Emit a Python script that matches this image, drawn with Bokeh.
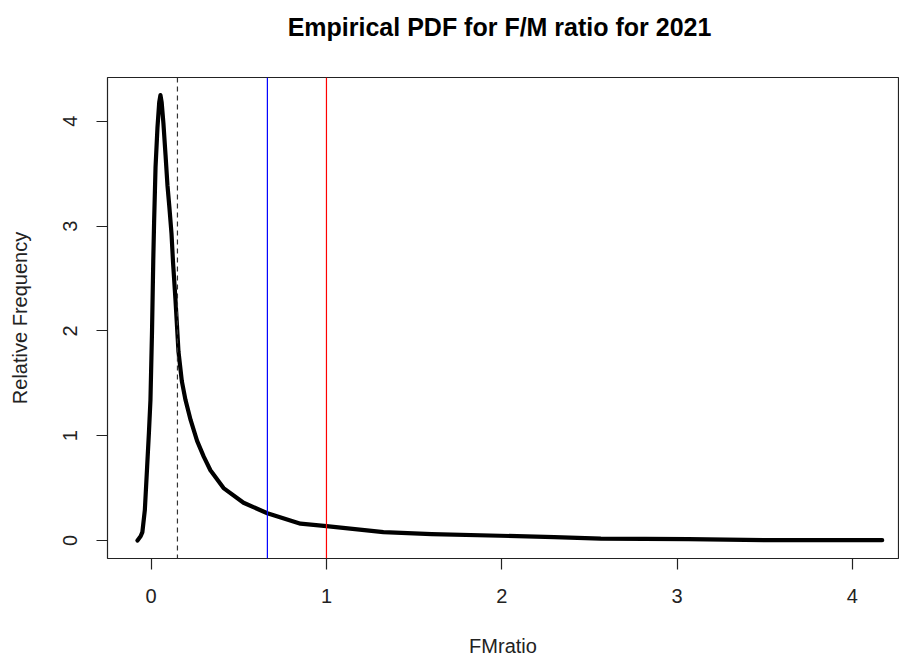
from bokeh.plotting import figure
from bokeh.models import Range1d, FixedTicker, Span, Title
from bokeh.embed import file_html
from bokeh.resources import INLINE

# Density curve
fm_x = [-0.078, -0.06, -0.05, -0.036, -0.023, -0.013, -0.004, 0.005, 0.012, 0.017,
        0.025, 0.036, 0.046, 0.053, 0.060, 0.070, 0.082, 0.093, 0.104, 0.116,
        0.125, 0.139, 0.156, 0.175, 0.196, 0.225, 0.262, 0.30, 0.338, 0.413,
        0.527, 0.663, 0.852, 1.0, 1.325, 1.6, 1.99, 2.3, 2.565, 3.065,
        3.5, 4.17]
density = [0.0, 0.04, 0.08, 0.29, 0.70, 1.02, 1.34, 2.0, 2.67, 3.05,
           3.56, 3.94, 4.18, 4.25, 4.18, 3.98, 3.68, 3.39, 3.18, 2.93,
           2.65, 2.29, 1.80, 1.52, 1.34, 1.15, 0.95, 0.80, 0.67, 0.50,
           0.36, 0.26, 0.16, 0.137, 0.079, 0.06, 0.045, 0.032, 0.018, 0.012,
           0.004, 0.003]

dashed_x = 0.15
blue_x = 0.663
red_x = 1.0

x_ticks = [0, 1, 2, 3, 4]
y_ticks = [0, 1, 2, 3, 4]

title_text = "Empirical PDF for F/M ratio for  2021"

FONT = "Liberation Sans"

p = figure(width=899, height=659, output_backend="svg", toolbar_location=None,
           x_range=Range1d(-0.249, 4.263), y_range=Range1d(-0.172, 4.418),
           min_border_left=107, min_border_top=77, min_border_right=1,
           min_border_bottom=101, title=title_text)

# thin spacer between frame and title, so the title sits higher
p.add_layout(Title(text=" ", text_font_size="2px", standoff=26), "above")

p.title.align = "center"
p.title.vertical_align = "top"
p.title.text_font = FONT
p.title.text_font_size = "25px"
p.title.text_font_style = "bold"
p.title.text_color = "black"
p.title.standoff = 10

p.background_fill_color = "white"
p.border_fill_color = "white"
p.outline_line_color = "#222222"
p.outline_line_width = 1.2
p.grid.visible = False

for ax in (p.xaxis[0], p.yaxis[0]):
    ax.axis_line_color = None
    ax.major_tick_in = 0
    ax.major_tick_out = 11
    ax.major_tick_line_color = "#222222"
    ax.major_tick_line_width = 1.2
    ax.minor_tick_line_color = None
    ax.major_label_text_font = FONT
    ax.major_label_text_font_size = "20px"
    ax.major_label_text_color = "#222222"
    ax.axis_label_text_font = FONT
    ax.axis_label_text_font_size = "20px"
    ax.axis_label_text_font_style = "normal"
    ax.axis_label_text_color = "#222222"

p.xaxis[0].ticker = FixedTicker(ticks=x_ticks)
p.yaxis[0].ticker = FixedTicker(ticks=y_ticks)
p.xaxis[0].axis_label = "FMratio"
p.yaxis[0].axis_label = "Relative Frequency"
p.xaxis[0].major_label_standoff = 19
p.xaxis[0].axis_label_standoff = 29
p.yaxis[0].major_label_orientation = "vertical"
p.yaxis[0].major_label_standoff = 19
p.yaxis[0].axis_label_standoff = 30

p.line(fm_x, density, line_color="black", line_width=4.2, line_join="round", line_cap="round")

p.add_layout(Span(location=dashed_x, dimension="height", line_color="#333333",
                  line_width=1.2, line_dash="5 4"))
p.add_layout(Span(location=blue_x, dimension="height", line_color="#0000FF", line_width=1.2))
p.add_layout(Span(location=red_x, dimension="height", line_color="#FF0000", line_width=1.2))

open("out.html", "w").write(file_html(p, INLINE))
